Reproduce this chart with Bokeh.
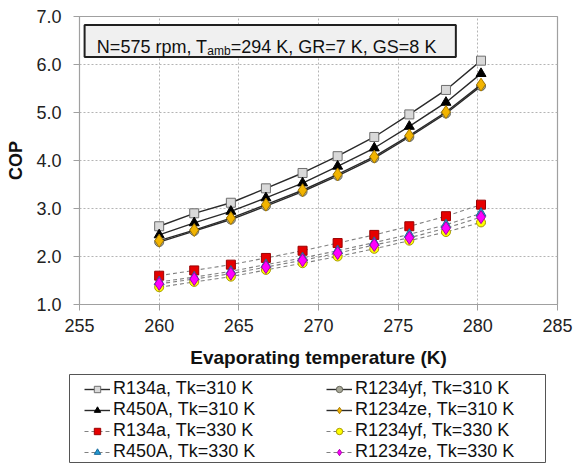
from bokeh.plotting import figure
from bokeh.layouts import column, row
from bokeh.models import (Range1d, SingleIntervalTicker, NumeralTickFormatter, Legend,
                          LegendItem, BoxAnnotation, Label, Spacer)
from bokeh.embed import file_html
from bokeh.resources import INLINE

# ---- data ----
T_evap = [260.0, 262.2, 264.5, 266.7, 269.0, 271.2, 273.5, 275.7, 278.0, 280.2]

r134a_310 = [2.63, 2.90, 3.12, 3.42, 3.74, 4.09, 4.49, 4.96, 5.47, 6.08]
r450a_310 = [2.45, 2.70, 2.94, 3.22, 3.53, 3.88, 4.26, 4.71, 5.21, 5.81]
r1234yf_310 = [2.30, 2.53, 2.77, 3.05, 3.35, 3.68, 4.05, 4.49, 4.98, 5.55]
r1234ze_310 = [2.33, 2.55, 2.80, 3.08, 3.38, 3.71, 4.08, 4.52, 5.01, 5.58]
r134a_330 = [1.60, 1.71, 1.83, 1.97, 2.12, 2.28, 2.45, 2.63, 2.84, 3.08]
r450a_330 = [1.47, 1.57, 1.69, 1.83, 1.97, 2.12, 2.29, 2.46, 2.66, 2.90]
r1234yf_330 = [1.36, 1.47, 1.58, 1.72, 1.86, 2.00, 2.16, 2.33, 2.51, 2.71]
r1234ze_330 = [1.43, 1.53, 1.64, 1.78, 1.92, 2.07, 2.24, 2.39, 2.59, 2.82]

series_labels = ["R134a, Tk=310 K", "R450A, Tk=310 K", "R1234yf, Tk=310 K", "R1234ze, Tk=310 K",
                 "R134a, Tk=330 K", "R450A, Tk=330 K", "R1234yf, Tk=330 K", "R1234ze, Tk=330 K"]
x_title = "Evaporating temperature (K)"
y_title = "COP"
note_main = "N=575 rpm, T"
note_sub = "amb"
note_rest = "=294 K, GR=7 K, GS=8 K"

FONT = "Liberation Sans"

fig = figure(width=576, height=374, output_backend="svg", toolbar_location=None,
             x_range=Range1d(255, 285), y_range=Range1d(1, 7),
             min_border_left=79, min_border_right=19, min_border_top=16, min_border_bottom=70)
fig.background_fill_color = "white"
fig.border_fill_color = "white"
fig.outline_line_color = "#a0a0a0"
fig.outline_line_width = 1.2

# axes
fig.xaxis.ticker = SingleIntervalTicker(interval=5)
fig.yaxis.ticker = SingleIntervalTicker(interval=1)
fig.yaxis.formatter = NumeralTickFormatter(format="0.0")
for ax in (fig.xaxis[0], fig.yaxis[0]):
    ax.axis_line_color = "#a0a0a0"
    ax.major_tick_line_color = "#a0a0a0"
    ax.minor_tick_line_color = None
    ax.major_tick_in = 0
    ax.major_tick_out = 6
    ax.major_label_text_font = FONT
    ax.major_label_text_font_size = "18px"
    ax.major_label_text_color = "#222222"
    ax.axis_label_text_font = FONT
    ax.axis_label_text_font_style = "bold"
    ax.axis_label_text_color = "#111111"
fig.xaxis.axis_label = x_title
fig.yaxis.axis_label = y_title
fig.xaxis.major_label_standoff = 8
fig.yaxis.major_label_standoff = 12
fig.xaxis.axis_label_text_font_size = "19px"
fig.yaxis.axis_label_text_font_size = "18px"
fig.xaxis.axis_label_standoff = 12
fig.yaxis.axis_label_standoff = 7

for g in (fig.xgrid[0], fig.ygrid[0]):
    g.grid_line_color = "#b4b4b4"
    g.grid_line_dash = "2 2"
    g.grid_line_width = 1

# series definitions: (data, marker, size, fill, line, dashed)
styles = [
    (r134a_310, "square", 9, "#d9d9d9", "#6e6e6e", False),
    (r450a_310, "triangle", 10, "#000000", "#000000", False),
    (r1234yf_310, "circle", 9, "#a8a898", "#66665a", False),
    (r1234ze_310, "diamond", 13, "#f2b400", "#a87a00", False),
    (r134a_330, "square", 9, "#e60000", "#9a0000", True),
    (r450a_330, "triangle", 10, "#2599d0", "#17699a", True),
    (r1234yf_330, "circle", 9, "#ffff00", "#a89a00", True),
    (r1234ze_330, "diamond", 13, "#ff00ff", "#a800a8", True),
]

# legend panel (separate small figure whose frame forms the legend box)
leg_fig = figure(width=477, height=89, output_backend="svg", toolbar_location=None,
                 x_range=Range1d(0, 1), y_range=Range1d(0, 1),
                 x_axis_location=None, y_axis_location=None,
                 min_border_left=0, min_border_right=0, min_border_top=0, min_border_bottom=0)
leg_fig.grid.visible = False
leg_fig.outline_line_color = "#555555"
leg_fig.outline_line_width = 1
leg_fig.background_fill_color = "white"
leg_fig.border_fill_color = "white"


def draw(target, ys, marker, size, fill, lcol, dashed):
    if dashed:
        ln = target.line(T_evap, ys, line_color="#808080", line_width=1.1, line_dash="4 3")
    else:
        ln = target.line(T_evap, ys, line_color="#2a2a2a", line_width=1.4)
    sc = target.scatter(T_evap, ys, marker=marker, size=size, fill_color=fill,
                        line_color=lcol, line_width=1)
    return ln, sc


items = {}
for st, lab in zip(styles, series_labels):
    draw(fig, *st)
    ln2, sc2 = draw(leg_fig, *st)  # drawn outside view; used only for legend glyphs
    items[lab] = LegendItem(label=lab, renderers=[ln2, sc2])

order = ["R134a, Tk=310 K", "R450A, Tk=310 K", "R134a, Tk=330 K", "R450A, Tk=330 K",
         "R1234yf, Tk=310 K", "R1234ze, Tk=310 K", "R1234yf, Tk=330 K", "R1234ze, Tk=330 K"]
legend = Legend(items=[items[k] for k in order], ncols=2, orientation="vertical",
                location=(15, 1), margin=0, padding=1, spacing=0,
                glyph_width=26, glyph_height=16, label_standoff=3, label_width=213,
                label_height=18,
                label_text_font=FONT, label_text_font_size="18px",
                label_text_color="#111111",
                border_line_color=None, background_fill_alpha=0)
leg_fig.add_layout(legend, "center")

# annotation box with subscript
box = BoxAnnotation(left=255.32, right=278.62, top=6.823, bottom=6.156,
                    fill_color="#f0f0f0", fill_alpha=1, line_color="#202020",
                    line_width=2, line_alpha=1)
fig.add_layout(box)
lab_x = 256.09
lab_y = 6.36
fig.add_layout(Label(x=lab_x, y=lab_y, text=note_main, text_font=FONT, text_font_size="18px",
                     text_color="#111111", text_baseline="alphabetic"))
fig.add_layout(Label(x=lab_x, y=lab_y, x_offset=110.5, y_offset=-4, text=note_sub, text_font=FONT,
                     text_font_size="12px", text_color="#111111", text_baseline="alphabetic"))
fig.add_layout(Label(x=lab_x, y=lab_y, x_offset=133.9, text=note_rest, text_font=FONT,
                     text_font_size="18px", text_color="#111111", text_baseline="alphabetic"))

p = column(fig, row(Spacer(width=69, height=89), leg_fig, spacing=0), spacing=0)
open("out.html", "w").write(file_html(p, INLINE))
